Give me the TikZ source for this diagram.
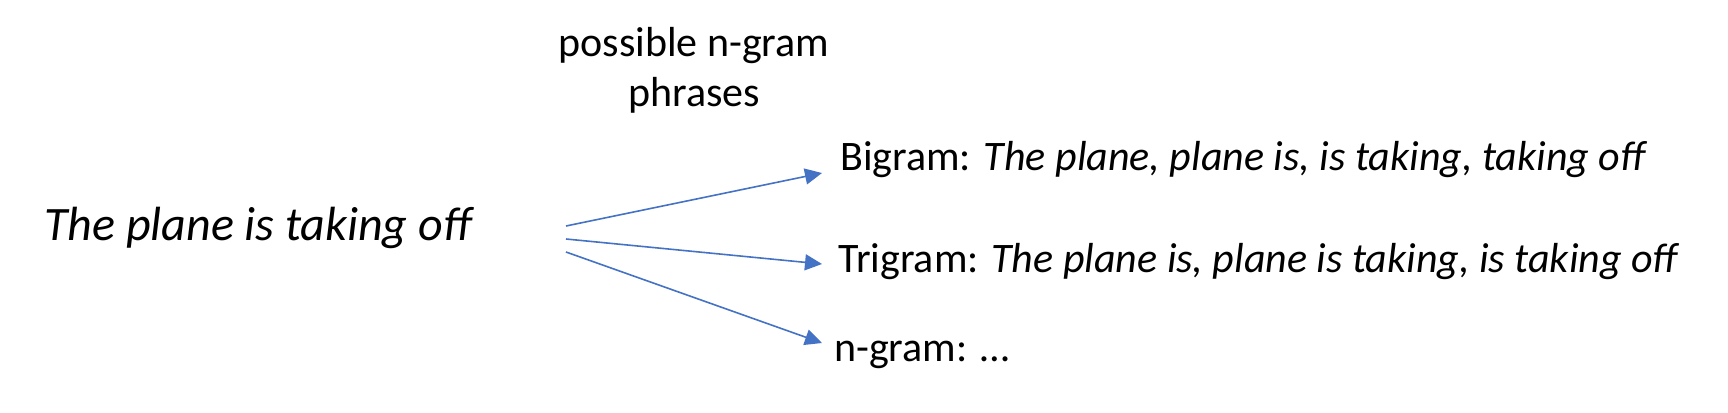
\documentclass[tikz,border=0pt]{standalone}
\usepackage{fontspec}
\setmainfont{Carlito}
\usetikzlibrary{arrows.meta}
\definecolor{arrowblue}{HTML}{4472C4}
\tikzset{
  txt/.style={anchor=west, inner sep=0pt, text=black},
  big/.style={font=\fontsize{48}{58}\selectfont},
  mid/.style={font=\fontsize{42}{50}\selectfont},
  conn/.style={draw=arrowblue, line width=1.6pt, -{Triangle[length=17pt,width=16pt]}}
}
\begin{document}
\begin{tikzpicture}[x=1pt,y=-1pt]
\useasboundingbox (0,0) rectangle (1728,412);
\node[txt,big] (src) at (44,228) {\itshape The plane is taking off};
\node[mid, inner sep=0pt, align=center] (hdr) at (694,70) {possible n-gram\\phrases};
\node[txt,mid] (bi) at (840,160) {Bigram: \itshape The plane, plane is, is taking, taking off};
\node[txt,mid] (tri) at (838,262) {Trigram: \itshape The plane is, plane is taking, is taking off};
\node[txt,mid] (ng) at (834,355) {n-gram: …};
\coordinate (s1) at (566,226);
\coordinate (s2) at (566,239);
\coordinate (s3) at (566,252);
\coordinate (t1) at (822,173);
\coordinate (t2) at (822,264);
\coordinate (t3) at (822,343);
\draw[conn] (s1) -- (t1);
\draw[conn] (s2) -- (t2);
\draw[conn] (s3) -- (t3);
\end{tikzpicture}
\end{document}
